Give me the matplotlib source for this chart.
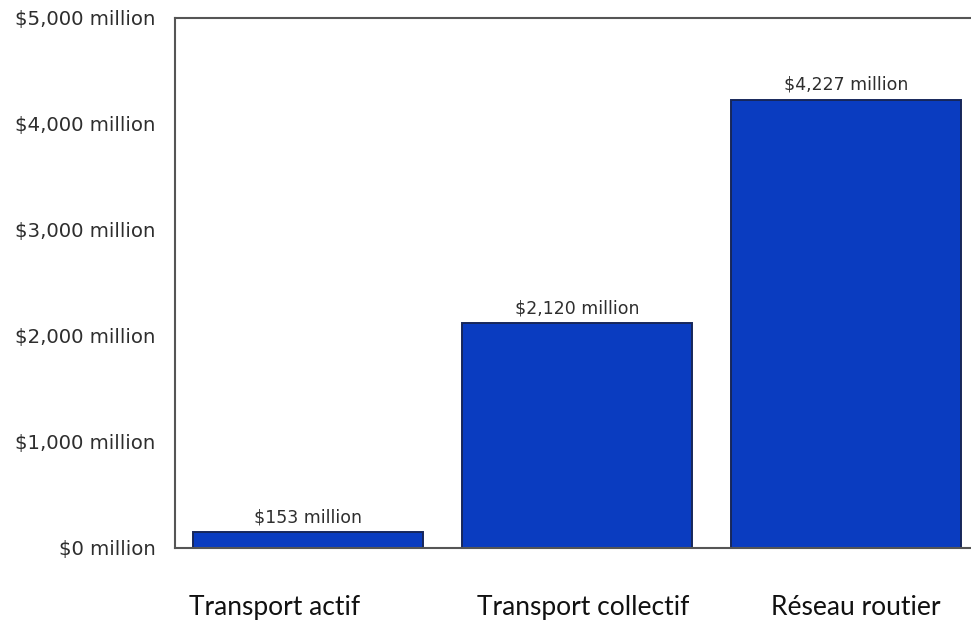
import matplotlib
matplotlib.use("Agg")
import matplotlib.pyplot as plt
import matplotlib.transforms as mtransforms

categories = ["Transport actif", "Transport collectif", "Réseau routier"]
values = [153, 2120, 4227]
value_labels = ["$153 million", "$2,120 million", "$4,227 million"]
yticks = [0, 1000, 2000, 3000, 4000, 5000]
ytick_labels = ["$0 million", "$1,000 million", "$2,000 million",
                "$3,000 million", "$4,000 million", "$5,000 million"]
label_offsets_px = [-34, 6, 9]

W, H = 971, 620
fig = plt.figure(figsize=(W / 100, H / 100), dpi=100)
ax = fig.add_axes([175 / W, (H - 548) / H, (W - 175) / W, (548 - 17.5) / H])

x = list(range(len(categories)))
bars = ax.bar(x, values, width=0.855, color="#0a3cc0", edgecolor="#17275a", linewidth=1.4)

ax.set_xlim(-0.496, 2.463)
ax.set_ylim(0, 5000)

ax.set_yticks(yticks)
ax.set_yticklabels(ytick_labels)
ax.tick_params(axis="y", length=0, pad=14, labelsize=14.2, labelcolor="#2e2e2e")
ax.set_xticks([])

for s in ["left", "top", "bottom"]:
    ax.spines[s].set_color("#555555")
    ax.spines[s].set_linewidth(1.5)
ax.spines["right"].set_visible(False)

for b, lab in zip(bars, value_labels):
    ax.annotate(lab, (b.get_x() + b.get_width() / 2, b.get_height()),
                xytext=(0, 4), textcoords="offset points", ha="center", va="bottom",
                fontsize=12.5, color="#2e2e2e")

for i, (cat, off) in enumerate(zip(categories, label_offsets_px)):
    tr = ax.get_xaxis_transform() + mtransforms.ScaledTranslation(off / 100, 0, fig.dpi_scale_trans)
    ax.text(i, -0.112, cat, transform=tr, ha="center", va="center",
            fontsize=19, family="Lato", color="#111111")

fig.savefig("out.png", dpi=100)
